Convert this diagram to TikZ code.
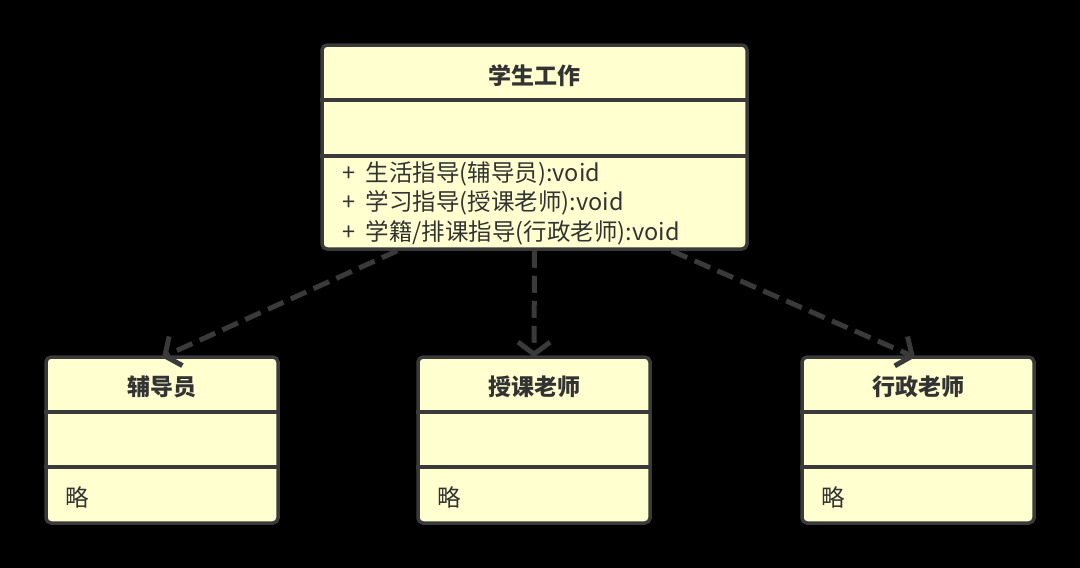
\documentclass[tikz,border=0pt]{standalone}
\usepackage{fontspec}
\setmainfont{Noto Sans CJK SC}
\usetikzlibrary{arrows.meta,calc}
\definecolor{boxfill}{HTML}{FFFFD0}
\definecolor{edge}{HTML}{3A3A3A}
\definecolor{ink}{HTML}{333333}
\tikzset{
  classbox/.style={draw=edge, fill=boxfill, line width=3.5pt, rounded corners=5pt, inner sep=0pt},
  divider/.style={draw=edge, line width=3.5pt},
  titletext/.style={text=ink, font=\fontsize{23}{27}\selectfont\bfseries, inner sep=0pt},
  bodytext/.style={text=ink, font=\fontsize{23.5}{29.5}\selectfont, inner sep=0pt, anchor=west, align=left},
  depend/.style={draw=edge, line width=5pt, dash pattern=on 17pt off 8pt, -{Straight Barb[length=12pt,width=32pt,line width=5pt]}}
}
\begin{document}
\begin{tikzpicture}[x=1pt,y=-1pt]
\fill[black] (0,0) rectangle (1080,568);
\useasboundingbox (0,0) rectangle (1080,568);

% main class
\node[classbox, minimum width=425pt, minimum height=204pt] (main) at (534.5,147) {};
\draw[divider] (main.west |- 0,100) -- (main.east |- 0,100);
\draw[divider] (main.west |- 0,156) -- (main.east |- 0,156);
\node[titletext] (mainT) at (534.5,76) {学生工作};
\node[bodytext] (mainM) at (342,203) {+\ \ 生活指导(辅导员):void\\+\ \ 学习指导(授课老师):void\\+\ \ 学籍/排课指导(行政老师):void};

% subclasses
\node[classbox, minimum width=232pt, minimum height=166pt] (fdy) at (162,440) {};
\node[classbox, minimum width=232pt, minimum height=166pt] (skls) at (534,440) {};
\node[classbox, minimum width=232pt, minimum height=166pt] (xzls) at (918,440) {};
\foreach \b in {fdy,skls,xzls}{
  \draw[divider] (\b.west |- 0,412) -- (\b.east |- 0,412);
  \draw[divider] (\b.west |- 0,467) -- (\b.east |- 0,467);
}
\node[titletext] (fdyT) at (162,387) {辅导员};
\node[titletext] (sklsT) at (534,387) {授课老师};
\node[titletext] (xzlsT) at (918,387) {行政老师};
\node[bodytext] (fdyM) at (65,497) {略};
\node[bodytext] (sklsM) at (437,497) {略};
\node[bodytext] (xzlsM) at (821,497) {略};

% dependencies
\draw[depend] ($(main.south west)!0.18!(main.south east)$) -- ([yshift=-2pt]fdy.north);
\draw[depend] (main.south) -- ([yshift=-2pt]skls.north);
\draw[depend] ($(main.south west)!0.82!(main.south east)$) -- ([xshift=-3pt,yshift=-2pt]xzls.north);
\end{tikzpicture}
\end{document}
